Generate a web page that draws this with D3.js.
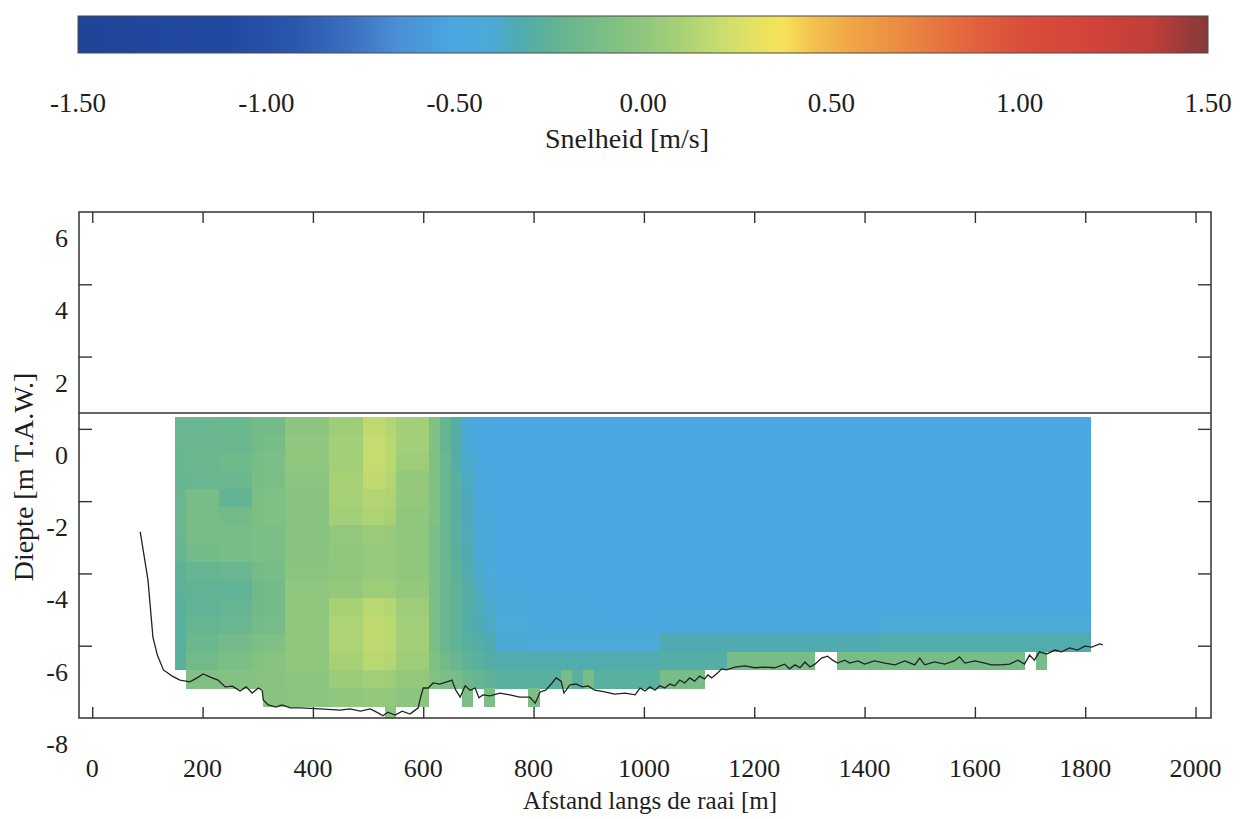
<!DOCTYPE html>
<html><head><meta charset="utf-8">
<script src="https://cdn.jsdelivr.net/npm/d3@7"></script>
<style>
body{margin:0;background:#fff}
svg{display:block}
</style>
</head><body>
<svg id="chart" width="1240" height="819" font-family="'Liberation Serif', 'Times New Roman', 'DejaVu Serif', serif"></svg>
<script>
// ---------------- DATA ----------------
// colour bar
const cbTicks = [-1.5, -1.0, -0.5, 0.0, 0.5, 1.0, 1.5];
const stopValues = [-1.5,-1.1,-0.93,-0.78,-0.65,-0.5,-0.4,-0.33,-0.25,-0.15,-0.05,0.0,0.1,0.2,0.3,0.37,0.45,0.55,0.7,0.85,1.0,1.2,1.35,1.45,1.5];
const stopColors = ["#1f4599","#2249a2","#2a56ad","#3b6fc0","#4a90d4","#4ba7e1","#4ca9d6","#4fabb0","#5fb296","#72ba8a","#86c381","#8fc77e","#a8d176","#c6dc70","#e6e262","#f6e35a","#f4c150","#f0a648","#ea8842","#e3683e","#da4e3b","#d2423a","#bf3f38","#98393a","#843a3a"];

// axes
const xTicks = [0,200,400,600,800,1000,1200,1400,1600,1800,2000];
const yTicks = [-8,-6,-4,-2,0,2,4,6];

// water level (m T.A.W.)
const waterLevel = 0.44;

// velocity field: cells of 0.5 m depth starting at cellTop, in x-bands (m)
const cellTop = 0.33;
const cellHeight = 0.5;
const bandEdges = [150,170,230,290,310,350,430,490,530,550,610,630,650,670,690,710,730,790,810,850,870,890,910,1030,1110,1150,1310,1350,1430,1690,1710,1730,1810];
const bandValues = [
  [-0.2,-0.2,-0.21,-0.22,-0.2,-0.19,-0.2,-0.22,-0.25,-0.26,-0.27,-0.28,-0.28,-0.27],
  [-0.2,-0.2,-0.18,-0.2,-0.12,-0.12,-0.12,-0.14,-0.22,-0.24,-0.24,-0.22,-0.18,-0.15,-0.08],
  [-0.18,-0.18,-0.16,-0.18,-0.23,-0.14,-0.12,-0.12,-0.2,-0.24,-0.22,-0.2,-0.14,-0.1,-0.06],
  [-0.14,-0.14,-0.12,-0.12,-0.1,-0.1,-0.1,-0.1,-0.14,-0.16,-0.16,-0.14,-0.1,-0.06,-0.05],
  [-0.14,-0.12,-0.1,-0.1,-0.08,-0.08,-0.1,-0.1,-0.12,-0.14,-0.14,-0.12,-0.08,-0.05,-0.04,-0.04],
  [-0.02,0,0,-0.02,-0.04,-0.04,-0.04,-0.04,-0.03,0,0,0,0,0,-0.02,-0.03],
  [0.06,0.08,0.08,0.1,0.1,0.08,0.01,0,0,0.02,0.1,0.12,0.12,0.1,0.05,0],
  [0.18,0.2,0.2,0.18,0.14,0.12,0.04,0.03,0.03,0.06,0.16,0.18,0.18,0.16,0.08,0.02],
  [0.14,0.16,0.16,0.14,0.12,0.1,0.03,0.03,0.03,0.06,0.14,0.16,0.16,0.14,0.06,0.02,-0.02],
  [0.08,0.08,0.06,0.02,0.02,0,0,0,0,0.02,0.06,0.08,0.08,0.06,0.02,-0.02],
  [-0.08,-0.08,-0.08,-0.08,-0.08,-0.08,-0.1,-0.1,-0.1,-0.1,-0.1,-0.1,-0.1,-0.08,-0.06],
  [-0.22,-0.22,-0.2,-0.2,-0.2,-0.2,-0.2,-0.2,-0.2,-0.2,-0.2,-0.2,-0.2,-0.15,-0.1],
  [-0.3,-0.3,-0.3,-0.28,-0.28,-0.28,-0.28,-0.27,-0.26,-0.25,-0.25,-0.25,-0.24,-0.2,-0.12],
  [-0.4,-0.4,-0.38,-0.36,-0.35,-0.35,-0.34,-0.33,-0.32,-0.3,-0.3,-0.3,-0.28,-0.25,-0.18,-0.1],
  [-0.47,-0.46,-0.45,-0.44,-0.43,-0.42,-0.41,-0.4,-0.38,-0.36,-0.34,-0.33,-0.3,-0.28,-0.22],
  [-0.5,-0.5,-0.49,-0.48,-0.47,-0.46,-0.45,-0.44,-0.42,-0.4,-0.38,-0.36,-0.33,-0.3,-0.26,-0.1],
  [-0.5,-0.5,-0.5,-0.5,-0.5,-0.5,-0.5,-0.49,-0.48,-0.46,-0.44,-0.42,-0.4,-0.32,-0.28],
  [-0.5,-0.5,-0.5,-0.5,-0.5,-0.5,-0.5,-0.5,-0.49,-0.48,-0.46,-0.44,-0.42,-0.32,-0.28,-0.1],
  [-0.5,-0.5,-0.5,-0.5,-0.5,-0.5,-0.5,-0.5,-0.5,-0.48,-0.47,-0.45,-0.42,-0.32,-0.28],
  [-0.5,-0.5,-0.5,-0.5,-0.5,-0.5,-0.5,-0.5,-0.5,-0.48,-0.47,-0.45,-0.42,-0.32,-0.12],
  [-0.5,-0.5,-0.5,-0.5,-0.5,-0.5,-0.5,-0.5,-0.5,-0.48,-0.47,-0.45,-0.42,-0.32,-0.28],
  [-0.5,-0.5,-0.5,-0.5,-0.5,-0.5,-0.5,-0.5,-0.5,-0.48,-0.47,-0.45,-0.42,-0.32,-0.12],
  [-0.5,-0.5,-0.5,-0.5,-0.5,-0.5,-0.5,-0.5,-0.5,-0.5,-0.49,-0.47,-0.42,-0.32,-0.28],
  [-0.5,-0.5,-0.5,-0.5,-0.5,-0.5,-0.5,-0.5,-0.5,-0.5,-0.48,-0.46,-0.33,-0.3,-0.12],
  [-0.5,-0.5,-0.5,-0.5,-0.5,-0.5,-0.5,-0.5,-0.5,-0.5,-0.48,-0.46,-0.33,-0.3],
  [-0.5,-0.5,-0.5,-0.5,-0.5,-0.5,-0.5,-0.5,-0.5,-0.5,-0.48,-0.46,-0.33,-0.12],
  [-0.5,-0.5,-0.5,-0.5,-0.5,-0.5,-0.5,-0.5,-0.5,-0.5,-0.48,-0.46,-0.33],
  [-0.5,-0.5,-0.5,-0.5,-0.5,-0.5,-0.5,-0.5,-0.5,-0.5,-0.48,-0.46,-0.33,-0.12],
  [-0.5,-0.5,-0.5,-0.5,-0.5,-0.5,-0.5,-0.5,-0.5,-0.5,-0.47,-0.42,-0.32,-0.12],
  [-0.5,-0.5,-0.5,-0.5,-0.5,-0.5,-0.5,-0.5,-0.5,-0.5,-0.47,-0.42,-0.32],
  [-0.5,-0.5,-0.5,-0.5,-0.5,-0.5,-0.5,-0.5,-0.5,-0.5,-0.47,-0.42,-0.32,-0.12],
  [-0.5,-0.5,-0.5,-0.5,-0.5,-0.5,-0.5,-0.5,-0.5,-0.5,-0.47,-0.42,-0.32]
];

// bed profile
const bathyX = [87,101,110,118,129,145,159,177,190,201,214,228,241,254,268,279,290,301,308,310,319,333,344,359,377,413,449,467,486,504,518,527,536,549,562,576,583,591,594,600,609,618,630,643,652,659,667,676,685,694,701,708,721,739,757,775,793,803,812,822,832,841,850,855,866,877,888,899,911,929,947,966,984,993,1002,1011,1020,1029,1038,1047,1056,1065,1074,1083,1092,1101,1110,1116,1123,1134,1141,1150,1165,1183,1201,1219,1237,1255,1264,1274,1283,1292,1301,1310,1322,1333,1342,1351,1364,1373,1388,1400,1418,1437,1455,1473,1491,1500,1509,1527,1545,1563,1572,1582,1600,1618,1630,1645,1663,1678,1690,1699,1708,1717,1730,1745,1757,1772,1786,1799,1812,1826,1832];
const bathyZ = [-2.85,-4.18,-5.76,-6.26,-6.67,-6.84,-6.95,-7.0,-6.89,-6.78,-6.87,-6.95,-7.14,-7.12,-7.25,-7.14,-7.31,-7.17,-7.23,-7.5,-7.64,-7.70,-7.64,-7.72,-7.72,-7.75,-7.78,-7.75,-7.81,-7.75,-7.86,-7.94,-7.84,-7.92,-7.81,-7.89,-7.81,-7.72,-7.5,-7.17,-7.17,-7.03,-7.06,-7.0,-6.95,-7.23,-7.42,-7.11,-7.23,-7.17,-7.44,-7.36,-7.39,-7.31,-7.36,-7.42,-7.42,-7.59,-7.28,-7.23,-7.06,-6.89,-6.98,-7.31,-7.08,-7.06,-7.14,-7.11,-7.23,-7.28,-7.34,-7.31,-7.36,-7.17,-7.25,-7.14,-7.23,-7.11,-7.17,-7.06,-7.11,-6.95,-7.03,-6.89,-6.98,-6.84,-6.92,-6.81,-6.89,-6.75,-6.64,-6.67,-6.59,-6.56,-6.61,-6.59,-6.61,-6.51,-6.64,-6.53,-6.61,-6.45,-6.59,-6.51,-6.34,-6.29,-6.40,-6.48,-6.40,-6.48,-6.42,-6.51,-6.42,-6.48,-6.53,-6.42,-6.53,-6.34,-6.53,-6.45,-6.51,-6.42,-6.31,-6.48,-6.42,-6.48,-6.53,-6.53,-6.51,-6.40,-6.51,-6.26,-6.40,-6.17,-6.23,-6.12,-6.17,-6.06,-6.12,-6.01,-6.04,-5.95,-5.98];

// ---------------- LAYOUT ----------------
const svg = d3.select("#chart");
const P = {left:79, right:1211, top:212, bottom:718};
const FS = 26;
const TXT = "#1e1e1e";

const x = d3.scaleLinear().domain([-24, 2028]).range([P.left, P.right]);
const y = d3.scaleLinear().domain([-8, 6]).range([P.bottom, P.top]);
const color = d3.scaleLinear().domain(stopValues).range(stopColors).clamp(true);
const cb = d3.scaleLinear().domain([-1.5, 1.5]).range([78, 1208]);

// ---------- colour bar ----------
const defs = svg.append("defs");
const grad = defs.append("linearGradient").attr("id","cbgrad").attr("x1","0%").attr("x2","100%");
grad.selectAll("stop").data(stopValues).join("stop")
  .attr("offset", d => ((d + 1.5) / 3 * 100) + "%")
  .attr("stop-color", (d,i) => stopColors[i]);
svg.append("rect")
  .attr("x", cb(-1.5)).attr("y", 16)
  .attr("width", cb(1.5) - cb(-1.5)).attr("height", 37)
  .attr("fill","url(#cbgrad)").attr("stroke","#4a4a4a").attr("stroke-width",1);
svg.append("g").selectAll("text").data(cbTicks).join("text")
  .attr("x", d => cb(d)).attr("y", 112)
  .attr("text-anchor","middle").attr("font-size",27).attr("fill",TXT)
  .text(d => d.toFixed(2));
svg.append("text").attr("x", 627).attr("y", 148)
  .attr("text-anchor","middle").attr("font-size",28).attr("fill",TXT)
  .text("Snelheid [m/s]");

// ---------- field ----------
defs.append("clipPath").attr("id","plotclip").append("rect")
  .attr("x",P.left).attr("y",P.top).attr("width",P.right-P.left).attr("height",P.bottom-P.top);

const cells = [];
bandValues.forEach((col, i) => {
  col.forEach((v, k) => {
    cells.push({x0: bandEdges[i], x1: bandEdges[i+1],
                zTop: cellTop - k*cellHeight, zBot: cellTop - (k+1)*cellHeight, v});
  });
});
svg.append("g").attr("clip-path","url(#plotclip)").attr("shape-rendering","crispEdges")
  .selectAll("rect").data(cells).join("rect")
  .attr("x", d => x(d.x0)).attr("width", d => x(d.x1) - x(d.x0) + 0.5)
  .attr("y", d => y(d.zTop)).attr("height", d => y(d.zBot) - y(d.zTop) + 0.5)
  .attr("fill", d => color(d.v));

// water level
svg.append("line")
  .attr("x1", P.left).attr("x2", P.right)
  .attr("y1", y(waterLevel)).attr("y2", y(waterLevel))
  .attr("stroke","#333").attr("stroke-width",1.4);

// bed line
const bathy = d3.zip(bathyX, bathyZ);
svg.append("path").datum(bathy)
  .attr("clip-path","url(#plotclip)")
  .attr("fill","none").attr("stroke","#222").attr("stroke-width",1.3)
  .attr("d", d3.line().x(d => x(d[0])).y(d => y(d[1])));

// ---------- axes ----------
const tickLen = 11;
const axB = svg.append("g").attr("transform",`translate(0,${P.bottom})`)
  .call(d3.axisBottom(x).tickValues(xTicks).tickSize(-tickLen).tickFormat(""));
const axT = svg.append("g").attr("transform",`translate(0,${P.top})`)
  .call(d3.axisTop(x).tickValues(xTicks).tickSize(-tickLen).tickFormat(""));
const innerY = yTicks.filter(v => v > -8 && v < 6);
const axL = svg.append("g").attr("transform",`translate(${P.left},0)`)
  .call(d3.axisLeft(y).tickValues(innerY).tickSize(-13).tickFormat(""));
const axR = svg.append("g").attr("transform",`translate(${P.right},0)`)
  .call(d3.axisRight(y).tickValues(innerY).tickSize(-13).tickFormat(""));
[axB,axT,axL,axR].forEach(g => {
  g.select(".domain").remove();
  g.selectAll(".tick line").attr("stroke","#333").attr("stroke-width",1.4);
});

// frame
svg.append("rect").attr("x",P.left).attr("y",P.top)
  .attr("width",P.right-P.left).attr("height",P.bottom-P.top)
  .attr("fill","none").attr("stroke","#333").attr("stroke-width",1.5);

// tick labels
svg.append("g").selectAll("text").data(xTicks).join("text")
  .attr("x", d => x(d)).attr("y", 777)
  .attr("text-anchor","middle").attr("font-size",FS).attr("fill",TXT)
  .text(d => String(d));
svg.append("g").selectAll("text").data(yTicks).join("text")
  .attr("x", 68).attr("y", d => y(d) + 35)
  .attr("text-anchor","end").attr("font-size",FS).attr("fill",TXT)
  .text(d => String(d));

// axis titles
svg.append("text").attr("x", 650).attr("y", 809)
  .attr("text-anchor","middle").attr("font-size",25).attr("fill",TXT)
  .text("Afstand langs de raai [m]");
svg.append("text").attr("transform","translate(33,477) rotate(-90)")
  .attr("text-anchor","middle").attr("font-size",28).attr("fill",TXT)
  .text("Diepte [m T.A.W.]");
</script>
</body></html>
